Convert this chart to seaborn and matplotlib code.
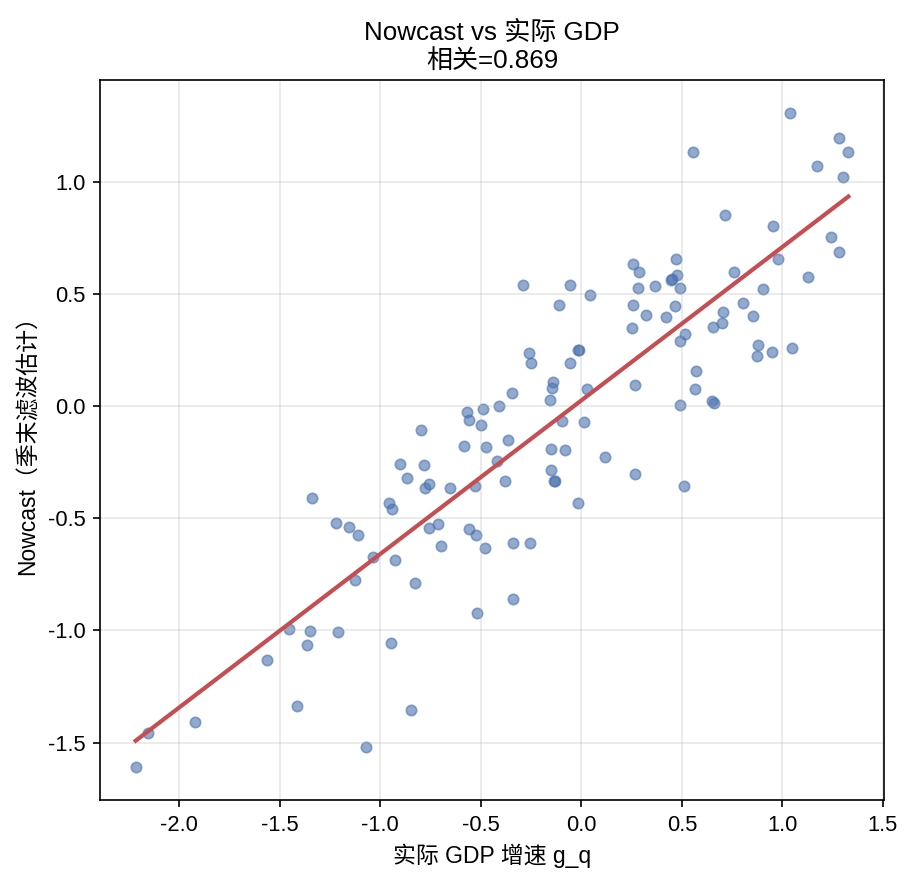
import numpy as np
import pandas as pd
import seaborn as sns
import matplotlib.pyplot as plt

# %%
# actual GDP growth (g_q) vs nowcast (quarter-end filtered estimate)
gdp_actual = [
    -0.29, -0.055, -0.11, 0.045, 0.258, 0.288, 0.28, 0.255, 0.25,
    1.04, 0.557, 1.28, 1.328, 1.17, 1.30, 0.716, 0.955, 1.242, 1.283,
    0.98, 1.128, 0.473, 0.478, 0.453, 0.445, 0.367, 0.491, 0.76, 0.905,
    0.803, 0.852, 0.707, 0.702, 0.653, 0.324, 0.423, 0.466, 0.518, 0.49,
    0.877, 0.872, 0.95, 1.05, 0.568, 0.265, 0.563, 0.491, 0.649, 0.659,
    0.265, 0.509, -0.26, -0.252, -0.013, -0.018, -0.058, -0.139, -0.144,
    -0.154, 0.03, -0.346, -0.41, -0.49, -0.569, -0.556, -0.50, -0.098,
    0.011, -0.795, -0.366, -0.585, -0.475, -0.149, -0.083, 0.119, -0.417,
    -0.899, -0.784, -0.149, -0.133, -0.138, -0.868, -0.377, -0.759, -0.779,
    -0.651, -0.53, -0.015, -0.955, -0.943, -0.714, -0.755, -0.558, -0.525,
    -0.696, -0.477, -0.338, -0.257, -0.925, -0.825, -1.337, -1.221, -1.157,
    -1.112, -1.034, -1.125, -1.451, -1.348, -1.208, -1.366, -0.945, -1.565,
    -1.416, -1.923, -2.156, -2.216, -1.069, -0.521, -0.341, -0.849,
]
nowcast = [
    0.54, 0.54, 0.45, 0.494, 0.634, 0.595, 0.524, 0.45, 0.347,
    1.307, 1.133, 1.195, 1.134, 1.07, 1.021, 0.851, 0.804, 0.754, 0.686,
    0.655, 0.574, 0.655, 0.585, 0.567, 0.561, 0.536, 0.525, 0.598, 0.522,
    0.46, 0.40, 0.42, 0.37, 0.351, 0.405, 0.396, 0.445, 0.321, 0.29,
    0.271, 0.223, 0.24, 0.258, 0.155, 0.092, 0.074, 0.003, 0.021, 0.012,
    -0.305, -0.358, 0.235, 0.19, 0.251, 0.248, 0.19, 0.107, 0.079,
    0.025, 0.076, 0.058, -0.001, -0.015, -0.028, -0.064, -0.086, -0.067,
    -0.073, -0.107, -0.152, -0.176, -0.183, -0.192, -0.198, -0.228, -0.244,
    -0.26, -0.263, -0.286, -0.332, -0.334, -0.321, -0.336, -0.347, -0.367,
    -0.367, -0.358, -0.433, -0.431, -0.457, -0.524, -0.542, -0.55, -0.573,
    -0.625, -0.631, -0.612, -0.609, -0.688, -0.79, -0.412, -0.522, -0.537,
    -0.573, -0.674, -0.774, -0.992, -1.004, -1.009, -1.064, -1.058, -1.134,
    -1.335, -1.408, -1.455, -1.61, -1.518, -0.921, -0.859, -1.354,
]
corr_label = "0.869"

df = pd.DataFrame({"g_q": gdp_actual, "nowcast": nowcast})

# %%
plt.rcParams['font.family'] = ['Liberation Sans', 'Noto Sans CJK SC', 'DejaVu Sans']
plt.rcParams['axes.unicode_minus'] = False

fig, ax = plt.subplots(figsize=(914 / 150, 884 / 150), dpi=150)
fig.subplots_adjust(left=0.1094, right=0.9672, top=0.9095, bottom=0.095)

blue = "#4C72B0"
red = "#C44E52"

sns.scatterplot(data=df, x="g_q", y="nowcast", ax=ax,
                color=blue, alpha=0.6, s=25, edgecolor=blue, linewidth=0.8)
sns.regplot(data=df, x="g_q", y="nowcast", ax=ax, scatter=False, ci=None,
            color=red, line_kws={"lw": 2})

ax.set_title(f"Nowcast vs 实际 GDP\n相关={corr_label}", fontsize=12.5)
ax.set_xlabel("实际 GDP 增速 g_q", fontsize=11)
ax.set_ylabel("Nowcast（季末滤波估计）", fontsize=11)
ax.tick_params(labelsize=10.5)
ax.grid(alpha=0.3)

plt.savefig("out.png", dpi=150)
